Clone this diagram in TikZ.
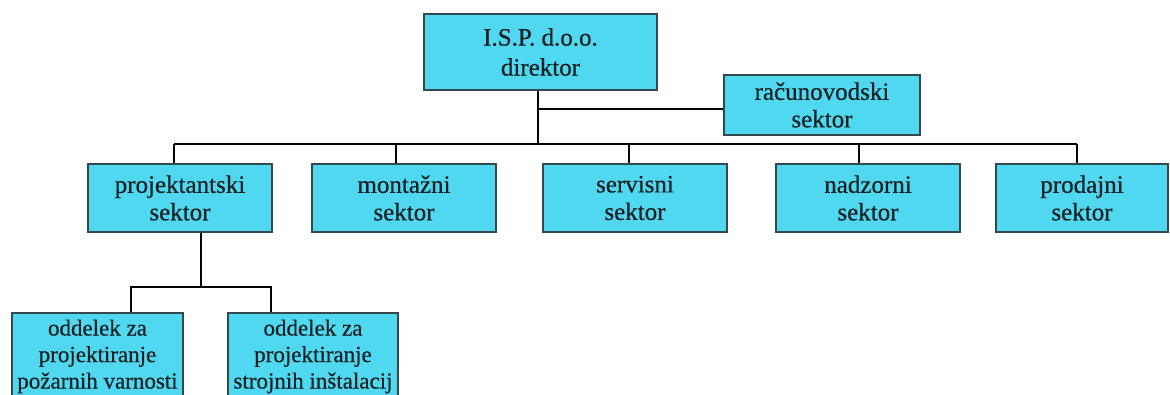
\documentclass[tikz,border=0pt]{standalone}
\usepackage{fontspec}
\setmainfont{Liberation Serif}
\newfontfamily\boxfont{Liberation Serif}[FakeBold=0.5]
\definecolor{boxfill}{RGB}{80,216,240}
\definecolor{boxline}{RGB}{52,72,78}
\definecolor{txt}{RGB}{22,32,34}
\begin{document}
\begin{tikzpicture}[x=1pt,y=-1pt,
  orgbox/.style={draw=boxline,line width=1.2pt,fill=boxfill,inner sep=0pt,
     align=center,text=txt,font=\boxfont\fontsize{25}{27.5}\selectfont},
  link/.style={line width=2.5pt,black}]
\useasboundingbox (0,0) rectangle (1170,394);
\clip (0,0) rectangle (1170,394);
\node[orgbox,minimum width=233pt,minimum height=76pt,font=\boxfont\fontsize{25}{30}\selectfont] (top) at (540.5,52) {I.S.P. d.o.o.\\direktor};
\node[orgbox,minimum width=196pt,minimum height=60pt] (rac) at (822,105) {računovodski\\sektor};
\node[orgbox,minimum width=184pt,minimum height=68pt] (proj) at (180,198) {projektantski\\sektor};
\node[orgbox,minimum width=184pt,minimum height=68pt] (mont) at (404,198) {montažni\\sektor};
\node[orgbox,minimum width=184pt,minimum height=68pt] (serv) at (635,198) {servisni\\sektor};
\node[orgbox,minimum width=184pt,minimum height=68pt] (nadz) at (868,198) {nadzorni\\sektor};
\node[orgbox,minimum width=172pt,minimum height=68pt] (prod) at (1082,198) {prodajni\\sektor};
\node[orgbox,minimum width=171pt,minimum height=87pt,font=\boxfont\fontsize{23}{26.5}\selectfont] (odd1) at (97.5,356.5) {oddelek za\\projektiranje\\požarnih varnosti};
\node[orgbox,minimum width=170pt,minimum height=87pt,font=\boxfont\fontsize{23}{26.5}\selectfont] (odd2) at (313,356.5) {oddelek za\\projektiranje\\strojnih inštalacij};
\coordinate (bus) at (538,144);
\coordinate (bus2) at (201,287);
% top to bus and accounting
\draw[link] ([xshift=-2.5pt]top.south) -- (bus);
\draw[link] ([xshift=-2.5pt,yshift=-4pt]top.south |- rac.west) -- ([yshift=-4pt]rac.west);
% bus
\draw[link] ([xshift=-6pt]proj.north |- bus) -- ([xshift=-5pt]prod.north |- bus);
\draw[link] ([xshift=-6pt]proj.north) -- ([xshift=-6pt]proj.north |- bus);
\draw[link] ([xshift=-8pt]mont.north) -- ([xshift=-8pt]mont.north |- bus);
\draw[link] ([xshift=-6pt]serv.north) -- ([xshift=-6pt]serv.north |- bus);
\draw[link] ([xshift=-9pt]nadz.north) -- ([xshift=-9pt]nadz.north |- bus);
\draw[link] ([xshift=-5pt]prod.north) -- ([xshift=-5pt]prod.north |- bus);
% sub departments
\draw[link] ([xshift=21pt]proj.south) -- (bus2);
\draw[link] ([xshift=33.5pt]odd1.north) |- (bus2) -| ([xshift=-42pt]odd2.north);
\end{tikzpicture}
\end{document}
